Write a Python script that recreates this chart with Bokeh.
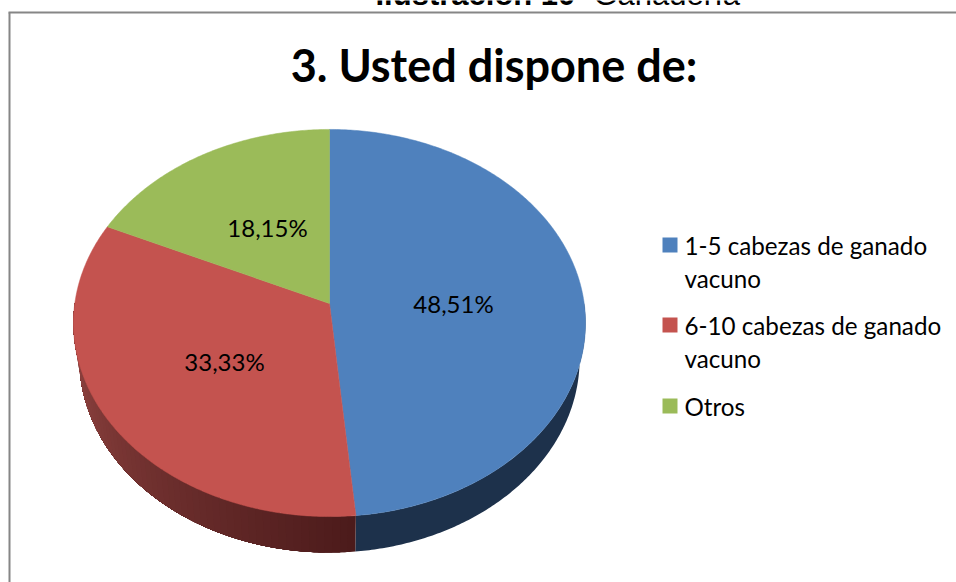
from bokeh.plotting import figure
from bokeh.models import Range1d
from bokeh.core.properties import value
from bokeh.embed import file_html
from bokeh.resources import INLINE
import math

title = "3. Usted dispone de:"
caption_bold = "Ilustración 10"
caption_regular = "Ganadería"
categories = ["1-5 cabezas de ganado vacuno", "6-10 cabezas de ganado vacuno", "Otros"]
legend_lines = [["1-5 cabezas de ganado", "vacuno"], ["6-10 cabezas de ganado", "vacuno"], ["Otros"]]
shares = [48.51, 33.33, 18.15]
labels = ["48,51%", "33,33%", "18,15%"]
colors = ["#4F81BD", "#C4534F", "#9BBB59"]

CX, CY, B, A, K, DEPTH, LOWER = 329, 303, 254.7, 191.6, 0.1008, 36, 0.977
FONT = "Lato"


def rim(theta):
    u, v = math.sin(theta), math.cos(theta)
    d = 1 + K * v
    return CX + B * u / d, CY - A * v / d


def mix(c1, c2, t):
    r = [round(a + (b - a) * t) for a, b in zip(c1, c2)]
    return "#%02x%02x%02x" % tuple(r)


p = figure(width=956, height=582, x_range=Range1d(0, 956), y_range=Range1d(582, 0),
           toolbar_location=None, output_backend="svg", min_border=0,
           outline_line_color=None, margin=0)
p.axis.visible = False
p.grid.visible = False

# chart frame
p.segment([9, 8], [12, 12], [9, 956], [582, 12], line_color="#868686", line_width=2)

total = sum(shares)
edges = [0.0]
for s in shares:
    edges.append(edges[-1] + s / total * 2 * math.pi)

# side wall: each strip runs to the slice end and is painted over the previous one
side_styles = [((0x1D, 0x31, 0x4B), (0x1D, 0x31, 0x4B), 1),
               ((0x4C, 0x1B, 0x1B), (0x96, 0x47, 0x44), 60),
               ((0x5E, 0x72, 0x30), (0x5E, 0x72, 0x30), 1)]
for i, (c0, c1, steps) in enumerate(side_styles):
    lo, hi = max(edges[i], math.pi / 2), min(edges[i + 1], 3 * math.pi / 2)
    if hi <= lo:
        continue
    for j in range(steps):
        start = lo + (hi - lo) * j / steps
        n = max(2, int((hi - start) / 0.01))
        pts = [rim(start + (hi - start) * m / n) for m in range(n + 1)]
        xs = [q[0] for q in pts] + [CX + (q[0] - CX) * LOWER for q in reversed(pts)]
        ys = [q[1] for q in pts] + [q[1] + DEPTH for q in reversed(pts)]
        p.patch(xs, ys, fill_color=mix(c0, c1, j / max(steps - 1, 1)), line_color=None)

# top faces
for i, c in enumerate(colors):
    a0, a1 = edges[i], edges[i + 1]
    n = max(2, int((a1 - a0) / 0.01))
    pts = [rim(a0 + (a1 - a0) * j / n) for j in range(n + 1)]
    p.patch([CX] + [q[0] for q in pts], [CY] + [q[1] for q in pts],
            fill_color=c, line_color=c, line_width=0.5)

# slice labels
p.text([453, 224, 267], [303, 361, 227], text=labels, text_font=value(FONT), text_font_size="24px",
       text_align="center", text_baseline="middle", text_color="#000000")

# title and caption
p.text([493.5], [64], text=[title], text_font=value(FONT), text_font_style="bold", text_font_size="45px",
       text_align="center", text_baseline="middle", text_color="#000000")
p.text([375], [-6], text=[caption_bold], text_font=value("Liberation Sans"), text_font_style="bold",
       text_font_size="31px", text_align="left", text_baseline="alphabetic", text_color="#000000")
p.text([593], [-6], text=[caption_regular], text_font=value("Liberation Sans"),
       text_font_size="31px", text_align="left", text_baseline="alphabetic", text_color="#000000")

# legend
for i, (lines, ty) in enumerate(zip(legend_lines, [244.5, 324.5, 405.5])):
    p.scatter([669.5], [ty], marker="square", size=15, fill_color=colors[i], line_color=None)
    for k, line in enumerate(lines):
        p.text([684], [ty + k * 33], text=[line], text_font=value(FONT), text_font_size="24.2px",
               text_align="left", text_baseline="middle", text_color="#000000")

open("out.html", "w").write(file_html(p, INLINE))
